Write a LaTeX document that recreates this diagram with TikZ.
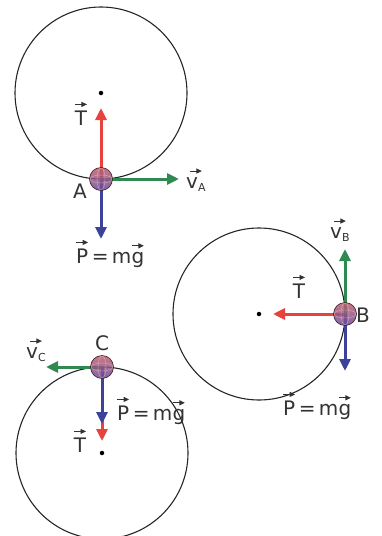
\documentclass[tikz,border=0pt]{standalone}
\usepackage{fontspec}
\setmainfont{DejaVu Sans}
\usetikzlibrary{arrows.meta}
\definecolor{fred}{HTML}{E8423F}
\definecolor{fgreen}{HTML}{2E8A50}
\definecolor{fblue}{HTML}{3C4199}
\definecolor{balltop}{HTML}{C0606E}
\definecolor{ballbot}{HTML}{6A4C9E}
\newcommand\arrowon[1]{\leavevmode\vbox{\offinterlineskip\halign{\hfil##\hfil\cr
  \tikz\draw[line width=0.9pt,-{Triangle[length=5.5pt,width=5pt]}](0,0)--(12pt,0);\cr
  \noalign{\kern3.5pt}#1\cr}}}
\newcommand\sub[1]{\raisebox{-3.5pt}{\fontsize{11}{11}\selectfont #1}}
\begin{document}
\begin{tikzpicture}[x=1pt,y=-1pt,
  orbit/.style={line width=1.1pt,draw=black!85},
  centredot/.style={circle,fill=black,inner sep=0pt,minimum size=4.5pt},
  ball/.style={circle,minimum size=23pt,inner sep=0pt,top color=balltop,bottom color=ballbot,draw=black!70!balltop,line width=0.6pt,fill opacity=0.85},
  force/.style={line width=3pt,-{Triangle[length=12pt,width=11pt]}},
  lbl/.style={inner sep=0pt,font=\fontsize{20}{22}\selectfont,text=black!80}]
\useasboundingbox (0,0) rectangle (382,536);
% centres
\node[centredot] (OA) at (101,93) {};
\node[centredot] (OB) at (259,314) {};
\node[centredot] (OC) at (102,453) {};
% circles
\draw[orbit] (OA.center) circle (86);
\draw[orbit] (OB.center) circle (86);
\draw[orbit] (OC.center) circle (86);
% tips
\coordinate (TA) at (101,108);
\coordinate (VA) at (179,179);
\coordinate (PA) at (101,239);
\coordinate (TB) at (273,314);
\coordinate (VB) at (345,249);
\coordinate (PB) at (345,371);
\coordinate (TC) at (102,441);
\coordinate (VC) at (46,367);
\coordinate (PC) at (102,424);
% balls positions
\coordinate (A) at (101,179);
\coordinate (B) at (345,314);
\coordinate (C) at (102,367);
% forces
\draw[force,fred] (A) -- (TA);
\draw[force,fgreen] (A) -- (VA);
\draw[force,fblue] (A) -- (PA);
\draw[force,fred] (B) -- (TB);
\draw[force,fgreen] (B) -- (VB);
\draw[force,fblue] (B) -- (PB);
\draw[force,fred] (C) -- (TC);
\draw[force,fgreen] (C) -- (VC);
\draw[force,fblue] (C) -- (PC);
% balls
\foreach \b in {A,B,C}{
  \node[ball] (ball\b) at (\b) {};
  \draw[white!60!balltop,line width=0.4pt,opacity=0.7] (\b) ellipse (11 and 4);
  \draw[white!60!balltop,line width=0.4pt,opacity=0.7] (\b) ellipse (4 and 11);
}
% labels A
\node[lbl,anchor=base] (lTA) at (81,125) {\arrowon{T}};
\node[lbl,anchor=base] (lA) at (80,198) {A};
\node[lbl,anchor=base west] (lVA) at (186,188) {\arrowon{v\sub{A}}};
\node[lbl,anchor=base] (lPA) at (110,263) {\arrowon{P}\,=\,m\arrowon{g}};
% labels B
\node[lbl,anchor=base west] (lVB) at (330,238) {\arrowon{v\sub{B}}};
\node[lbl,anchor=base] (lTB) at (299,298) {\arrowon{T}};
\node[lbl,anchor=base west] (lB) at (356,322) {B};
\node[lbl,anchor=base] (lPB) at (317,415) {\arrowon{P}\,=\,m\arrowon{g}};
% labels C
\node[lbl,anchor=base west] (lVC) at (26,358) {\arrowon{v\sub{C}}};
\node[lbl,anchor=base] (lC) at (102,350) {C};
\node[lbl,anchor=base] (lTC) at (80,452) {\arrowon{T}};
\node[lbl,anchor=base] (lPC) at (151,420) {\arrowon{P}\,=\,m\arrowon{g}};
\end{tikzpicture}
\end{document}
